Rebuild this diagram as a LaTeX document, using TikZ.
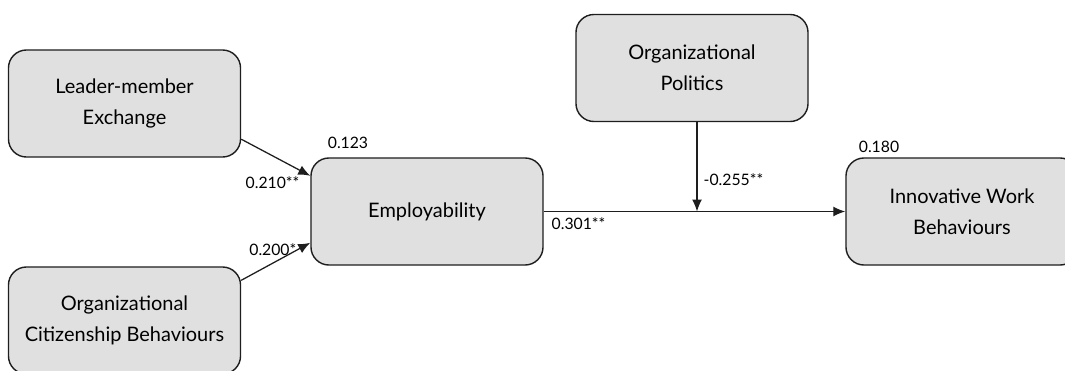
\documentclass[tikz,border=0pt]{standalone}
\usepackage{fontspec}
\setmainfont{Lato}
\usetikzlibrary{arrows.meta}
\definecolor{boxgray}{HTML}{E0E0E0}
\definecolor{edgegray}{HTML}{1E1E1E}

\tikzset{
  varbox/.style={draw=edgegray,fill=boxgray,line width=1pt,rounded corners=0.45cm,
    minimum width=5.8cm,minimum height=2.675cm,align=center,font=\fontsize{14.2}{22}\selectfont},
  path/.style={draw=edgegray,line width=0.9pt,-{Latex[length=0.3cm,width=0.25cm]}},
  coef/.style={font=\fontsize{11.2}{13}\selectfont,inner sep=1pt}
}

\begin{document}
\begin{tikzpicture}[x=0.025cm,y=-0.025cm]
  \useasboundingbox (0,0) rectangle (1065,370);
  \clip (0,0) rectangle (1065,370);
  \node[varbox] (lmx) at (124.5,103.5) {Leader-member\\Exchange};
  \node[varbox] (ocb) at (124.5,320.5) {Organizational\\Citizenship Behaviours};
  \node[varbox] (empl) at (427,211.5) {Employability};
  \node[varbox] (pol) at (692,68) {Organizational\\Politics};
  \node[varbox] (iwb) at (962,211.5) {Innovative Work\\Behaviours};
  \coordinate (mod) at (697,211.5);

  \draw[path] (lmx.-17) -- (empl.163);
  \draw[path] (ocb.19) -- (empl.195);
  \draw[path] (empl.east) -- (iwb.west);
  \draw[path] (mod |- pol.south) -- (mod);

  \node[coef] (r2empl) at (348,143) {0.123};
  \node[coef] (r2iwb) at (879,147) {0.180};
  \node[coef,anchor=east] (blmx) at (301,183) {0.210**};
  \node[coef,anchor=east] (bocb) at (298,250) {0.200*};
  \node[coef,anchor=west] (bempl) at (550,224) {0.301**};
  \node[coef,anchor=west] (bpol) at (702,180) {-0.255**};
\end{tikzpicture}
\end{document}
